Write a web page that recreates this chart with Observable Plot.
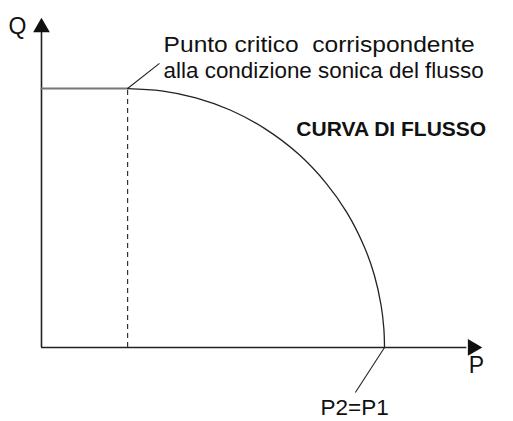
<!DOCTYPE html>
<html>
<head>
<meta charset="utf-8">
<script src="https://cdn.jsdelivr.net/npm/d3@7"></script>
<script src="https://cdn.jsdelivr.net/npm/@observablehq/plot@0.6"></script>
<style>
  html, body { margin: 0; padding: 0; background: #fff; }
  #chart svg { display: block; }
</style>
</head>
<body>
<div id="chart"></div>
<script>
// Flow curve Q(P), normalised: P2=P1 -> P = 1, max flow -> Q = 1
const curveP = [0.251, 0.35, 0.45, 0.55, 0.65, 0.75, 0.83, 0.89, 0.94, 0.97, 0.99, 0.998, 1.0];
const curveQ = [1.0, 0.991, 0.964, 0.917, 0.846, 0.746, 0.634, 0.522, 0.392, 0.281, 0.163, 0.073, 0.0];
// choked (sonic) plateau
const plateauP = [0, 0.251];
const plateauQ = [1.0, 1.0];
const criticalP = 0.251;
const endP = 1.0;
// axes extents
const axisMaxP = 1.24;
const axisMaxQ = 1.22;
const arrowP = 1.257;
const arrowQ = 1.236;
// labels
const axisLabels = ["Q", "P"];
const noteLines = ["Punto critico\u00a0 corrispondente", "alla condizione sonica del flusso"];
const curveTitle = ["CURVA DI FLUSSO"];
const endLabel = ["P2=P1"];

const plateau = plateauP.map((p, i) => ({P: p, Q: plateauQ[i]}));
const curve = curveP.map((p, i) => ({P: p, Q: curveQ[i]}));

const font = "'Liberation Sans', Arial, Helvetica, sans-serif";

const chart = Plot.plot({
  width: 513,
  height: 421,
  marginLeft: 0, marginRight: 0, marginTop: 0, marginBottom: 0,
  x: {domain: [-0.1195, 1.376], axis: null},
  y: {domain: [-0.286, 1.340], axis: null},
  style: {fontFamily: font, background: "#fff"},
  marks: [
    // axes
    Plot.ruleY([0], {x1: 0, x2: axisMaxP, stroke: "#222", strokeWidth: 1.6}),
    Plot.ruleX([0], {y1: 0, y2: axisMaxQ, stroke: "#222", strokeWidth: 1.6}),
    Plot.dot([{P: 0, Q: arrowQ}], {x: "P", y: "Q", symbol: "triangle", r: 6.2, fill: "#111", stroke: "none"}),
    Plot.dot([{P: arrowP, Q: 0}], {x: "P", y: "Q", symbol: "triangle", r: 6.2, fill: "#111", stroke: "none", rotate: 90}),
    // dashed critical line
    Plot.ruleX([criticalP], {y1: 0, y2: 1.0, stroke: "#333", strokeWidth: 1.2, strokeDasharray: "5,4"}),
    // plateau
    Plot.line(plateau, {x: "P", y: "Q", stroke: "#777", strokeWidth: 2}),
    // curve
    Plot.line(curve, {x: "P", y: "Q", curve: "catmull-rom", stroke: "#222", strokeWidth: 1.3}),
    // leader lines
    Plot.link([{P1: criticalP, Q1: 1.0, P2: 0.344, Q2: 1.097}], {x1: "P1", y1: "Q1", x2: "P2", y2: "Q2", stroke: "#222", strokeWidth: 1.1}),
    Plot.link([{P1: endP, Q1: 0, P2: 0.915, Q2: -0.174}], {x1: "P1", y1: "Q1", x2: "P2", y2: "Q2", stroke: "#222", strokeWidth: 1.1}),
    // texts
    Plot.text([{t: axisLabels[0], P: -0.07, Q: 1.212}], {x: "P", y: "Q", text: "t", fontSize: 23, textAnchor: "middle", lineAnchor: "bottom", fill: "#111"}),
    Plot.text([{t: axisLabels[1], P: 1.268, Q: -0.100}], {x: "P", y: "Q", text: "t", fontSize: 23, textAnchor: "middle", lineAnchor: "bottom", fill: "#111"}),
    Plot.text([{t: endLabel[0], P: 0.913, Q: -0.2625}], {x: "P", y: "Q", text: "t", fontSize: 22.5, textAnchor: "middle", lineAnchor: "bottom", fill: "#111"}),
    Plot.text(noteLines.map((t, i) => ({t, P: 0.356, Q: [1.143, 1.042][i]})), {x: "P", y: "Q", text: "t", fontSize: 21.5, textAnchor: "start", lineAnchor: "bottom", fill: "#111"}),
    Plot.text([{t: curveTitle[0], P: 0.743, Q: 0.815}], {x: "P", y: "Q", text: "t", fontSize: 21, fontWeight: "bold", textAnchor: "start", lineAnchor: "bottom", fill: "#111"})
  ]
});

// stretch the annotation lines horizontally to the reference's set width
const stretch = new Map([[noteLines[0], 311], [noteLines[1], 320]]);
d3.select(chart).selectAll("text").each(function () {
  const w = stretch.get(this.textContent);
  if (w) {
    this.setAttribute("textLength", w);
    this.setAttribute("lengthAdjust", "spacingAndGlyphs");
  }
});
document.getElementById("chart").appendChild(chart);
</script>
</body>
</html>
